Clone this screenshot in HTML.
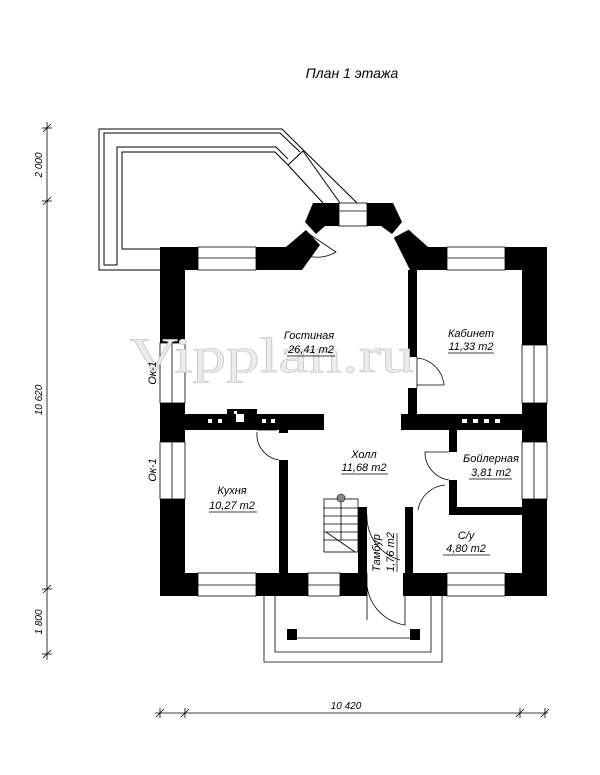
<!DOCTYPE html>
<html><head><meta charset="utf-8"><style>
html,body{margin:0;padding:0;background:#fff;width:600px;height:775px;overflow:hidden}
svg{display:block}
text{font-family:"Liberation Sans","DejaVu Sans",sans-serif;font-style:italic;fill:#000}
</style></head><body>
<svg width="600" height="775" viewBox="0 0 600 775" xmlns="http://www.w3.org/2000/svg">
<text x="352" y="78" font-size="14" text-anchor="middle">План 1 этажа</text>

<!-- terrace -->
<g fill="none" stroke="#000" stroke-width="1">
<polyline points="160,270 99,270 99,129 282,129 357,203"/>
<polyline points="117,265 104,265 104,133 280,133 300,152"/>
<polyline points="117,265 117,147 276,147 288,159"/>
<polyline points="160,249 122,249 122,152 275,152 288,165 323,203"/>
<line x1="288" y1="165" x2="303" y2="151"/>
<line x1="303" y1="151" x2="340" y2="203"/>
</g>

<!-- house walls -->
<g fill="#000">
<rect x="160" y="247" width="38" height="23"/>
<rect x="160" y="247" width="25" height="96"/>
<rect x="256" y="247" width="30" height="23"/>
<polygon points="286,247 306,230 320,245 302,270 286,270"/>
<polygon points="313,203 339,203 339,226 325,226 316,234 305,222"/>
<polygon points="367,203 393,203 402,222 392,234 381,226 367,226"/>
<polygon points="394,238 409,230 428,247 428,270 410,270"/>
<rect x="428" y="247" width="19" height="23"/>
<rect x="505" y="247" width="42" height="23"/>
<rect x="522" y="247" width="25" height="98"/>
<rect x="160" y="403" width="25" height="39"/>
<rect x="522" y="403" width="25" height="39"/>
<rect x="160" y="499" width="25" height="97"/>
<rect x="522" y="499" width="25" height="97"/>
<rect x="160" y="573" width="38" height="23"/>
<rect x="256" y="573" width="52" height="23"/>
<rect x="340" y="573" width="27" height="23"/>
<rect x="403" y="573" width="44" height="23"/>
<rect x="505" y="573" width="42" height="23"/>
<!-- interior -->
<rect x="160" y="414" width="164" height="16"/>
<rect x="227" y="409" width="30" height="6"/>
<rect x="401" y="414" width="146" height="16"/>
<rect x="408" y="270" width="9" height="87"/>
<rect x="408" y="388" width="9" height="26"/>
<rect x="279" y="460" width="9" height="113"/>
<rect x="279" y="430" width="9" height="3"/>
<rect x="449" y="430" width="8" height="22"/>
<rect x="449" y="480" width="8" height="35"/>
<rect x="449" y="507" width="98" height="8"/>
<rect x="358" y="507" width="9" height="66"/>
<rect x="405" y="507" width="8" height="66"/>
</g>
<g fill="#fff">
<rect x="208" y="419" width="4" height="4"/><rect x="218" y="419" width="4" height="4"/>
<rect x="236" y="414" width="8" height="8"/><rect x="234" y="411" width="3" height="3"/>
<rect x="262" y="419" width="4" height="4"/><rect x="271" y="419" width="4" height="4"/>
<rect x="462" y="419" width="5" height="4"/><rect x="473" y="419" width="5" height="4"/><rect x="484" y="419" width="5" height="4"/><rect x="495" y="419" width="5" height="4"/>
</g>

<!-- windows -->
<g fill="none" stroke="#000" stroke-width="0.8">
<rect x="198" y="247" width="58" height="23"/><line x1="198" y1="258" x2="256" y2="258"/>
<rect x="447" y="247" width="58" height="23"/><line x1="447" y1="258" x2="505" y2="258"/>
<rect x="339" y="203" width="28" height="23"/><line x1="339" y1="211" x2="367" y2="211"/>
<rect x="198" y="573" width="58" height="23"/><line x1="198" y1="585" x2="256" y2="585"/>
<rect x="308" y="573" width="32" height="23"/><line x1="308" y1="585" x2="340" y2="585"/>
<rect x="447" y="573" width="58" height="23"/><line x1="447" y1="585" x2="505" y2="585"/>
<rect x="160" y="343" width="25" height="60"/><line x1="172" y1="343" x2="172" y2="403"/>
<rect x="160" y="442" width="25" height="57"/><line x1="172" y1="442" x2="172" y2="499"/>
<rect x="522" y="345" width="25" height="58"/><line x1="534" y1="345" x2="534" y2="403"/>
<rect x="522" y="442" width="25" height="57"/><line x1="534" y1="442" x2="534" y2="499"/>
<line x1="394" y1="238" x2="409" y2="230"/>
<!-- doors -->
<path d="M306,232 L336,252 A36,36 0 0 1 308,256"/>
<path d="M417,357 L417,388 M417,358 A30,30 0 0 1 444,385 L417,385"/>
<path d="M257,430 L277,430 M257,432 A26,26 0 0 0 279,460"/>
<path d="M449,452 L425,452 A28,28 0 0 0 449,480"/>
<path d="M445,485 A30,30 0 0 0 418,510"/>
<path d="M367,573 L367,620 M367,575 A45,45 0 0 0 405,625 L405,596"/>
<path d="M367,515 A45,45 0 0 0 400,560"/>
<!-- stairs -->
<rect x="324" y="499" width="34" height="53"/>
<line x1="324" y1="508" x2="358" y2="508"/><line x1="324" y1="516" x2="358" y2="516"/><line x1="324" y1="524" x2="358" y2="524"/><line x1="324" y1="532" x2="358" y2="532"/><line x1="324" y1="540" x2="358" y2="540"/>
<line x1="341" y1="499" x2="341" y2="540"/><line x1="326" y1="532" x2="355" y2="552"/>
<!-- porch -->
<polyline points="264,596 264,662 442,662 442,596"/>
<polyline points="275,596 275,652 431,652 431,596"/>
<line x1="297" y1="638" x2="410" y2="638"/>
</g>
<circle cx="341" cy="498" r="4" fill="#888" stroke="#000" stroke-width="0.6"/>
<rect x="287" y="629" width="10" height="11" fill="#000"/>
<rect x="410" y="629" width="10" height="11" fill="#000"/>

<!-- watermark -->
<text x="272" y="372" font-size="50" text-anchor="middle" textLength="285" lengthAdjust="spacingAndGlyphs" style="font-family:'Liberation Serif',serif;font-style:normal;fill:#ececec;stroke:#c8c8c8;stroke-width:0.7">Vipplan.ru</text>

<!-- labels -->
<g font-size="11" text-anchor="middle">
<text x="309" y="339">Гостиная</text><text x="311" y="353">26,41 m2</text>
<text x="471" y="337">Кабинет</text><text x="471" y="350">11,33 m2</text>
<text x="364" y="458">Холл</text><text x="364" y="471">11,68 m2</text>
<text x="491" y="462">Бойлерная</text><text x="491" y="476">3,81 m2</text>
<text x="232" y="494">Кухня</text><text x="232" y="509">10,27 m2</text>
<text x="466" y="539">С/у</text><text x="466" y="552">4,80 m2</text>
</g>
<g stroke="#000" stroke-width="0.7">
<line x1="287" y1="356" x2="335" y2="356"/><line x1="448" y1="353" x2="494" y2="353"/>
<line x1="341" y1="474" x2="388" y2="474"/><line x1="469" y1="479" x2="512" y2="479"/>
<line x1="209" y1="512" x2="257" y2="512"/><line x1="443" y1="555" x2="490" y2="555"/>
<line x1="397" y1="533" x2="397" y2="572"/>
</g>
<text font-size="11" text-anchor="middle" transform="translate(380,553) rotate(-90)">Тамбур</text>
<text font-size="11" text-anchor="middle" transform="translate(394,552) rotate(-90)">1,76 m2</text>
<text font-size="11" text-anchor="middle" transform="translate(156,373) rotate(-90)">Ок-1</text>
<text font-size="11" text-anchor="middle" transform="translate(156,470) rotate(-90)">Ок-1</text>

<!-- dimensions -->
<g stroke="#000" stroke-width="0.8">
<line x1="47" y1="122" x2="47" y2="660"/>
<line x1="42" y1="128" x2="52" y2="128"/><line x1="43" y1="132" x2="51" y2="124"/>
<line x1="42" y1="201" x2="52" y2="201"/><line x1="43" y1="205" x2="51" y2="197"/>
<line x1="42" y1="589" x2="52" y2="589"/><line x1="43" y1="593" x2="51" y2="585"/>
<line x1="42" y1="654" x2="52" y2="654"/><line x1="43" y1="658" x2="51" y2="650"/>
<line x1="155" y1="713" x2="548" y2="713"/>
<line x1="160" y1="708" x2="160" y2="718"/><line x1="156" y1="717" x2="164" y2="709"/>
<line x1="185" y1="708" x2="185" y2="718"/><line x1="181" y1="717" x2="189" y2="709"/>
<line x1="520" y1="708" x2="520" y2="718"/><line x1="516" y1="717" x2="524" y2="709"/>
<line x1="545" y1="708" x2="545" y2="718"/><line x1="541" y1="717" x2="549" y2="709"/>
</g>
<g font-size="10" text-anchor="middle">
<text transform="translate(42,165) rotate(-90)">2 000</text>
<text transform="translate(42,400) rotate(-90)">10 620</text>
<text transform="translate(42,622) rotate(-90)">1 800</text>
<text x="346" y="709">10 420</text>
</g>
</svg>
</body></html>
